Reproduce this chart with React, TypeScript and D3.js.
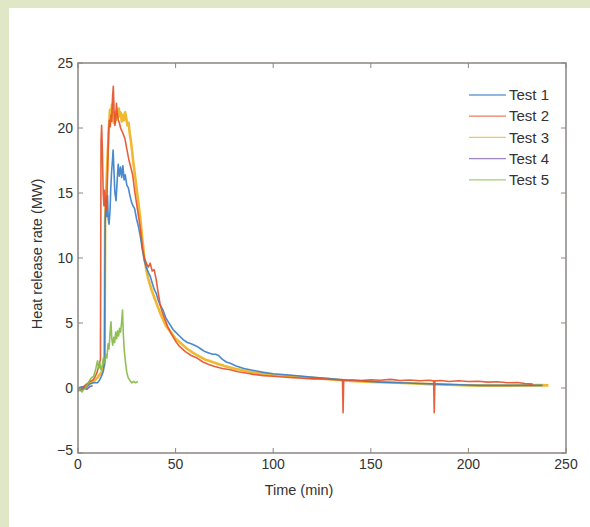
import React from "react";
import * as d3 from "d3";

type Pt = [number, number];

const seriesNames = ["Test 1", "Test 2", "Test 3", "Test 4", "Test 5"];
const seriesColors = ["#3a7fc8", "#e5532b", "#efb321", "#7b5fae", "#86ba48"];
const xTicks = [0, 50, 100, 150, 200, 250];
const yTicks = [-5, 0, 5, 10, 15, 20, 25];

const test1: Pt[] = [
  [0, 0.0], [2, 0.1], [4, 0.0], [6, 0.3], [8, 0.4], [10, 0.4], [11, 0.6], [12, 0.9], [13, 1.3], [13.6, 2.0],
  [13.9, 12.8], [14.3, 14.4], [14.7, 13.2], [15.1, 14.8], [15.5, 13.0], [15.9, 12.6], [16.4, 13.6],
  [16.8, 15.4], [17.2, 16.6], [17.6, 17.4], [18.0, 18.3], [18.4, 16.8], [18.9, 15.0], [19.5, 14.4],
  [20.0, 15.8], [20.6, 17.2], [21.2, 16.3], [21.8, 17.0], [22.4, 16.2], [23.0, 17.1], [23.6, 16.0],
  [24.2, 16.4], [25.0, 15.6], [25.8, 15.4], [26.6, 14.8], [27.4, 14.3], [28.2, 14.0], [29.0, 13.8],
  [30.0, 13.0], [31.0, 12.4], [32.0, 11.6], [33.0, 10.6], [34.0, 9.8], [35.0, 9.3], [36.0, 8.9],
  [37.0, 8.6], [38.0, 8.1], [39.0, 7.6], [40.0, 7.3], [41.0, 6.8], [42.0, 6.4], [43.5, 6.0], [45.0, 5.4],
  [47.0, 4.9], [48.7, 4.5], [50.0, 4.3], [52.0, 4.0], [54.0, 3.7], [56.0, 3.5], [58.0, 3.4], [61.0, 3.2],
  [63.0, 3.0], [65.0, 2.8], [67.0, 2.7], [69.0, 2.6], [70.5, 2.6], [72.0, 2.5], [74.0, 2.2], [76.0, 2.0],
  [78.0, 1.9], [81.0, 1.7], [85.0, 1.5], [90.0, 1.35], [95.0, 1.2], [100.0, 1.1], [108.0, 1.0],
  [115.0, 0.9], [122.0, 0.8], [130.0, 0.7], [138.0, 0.6], [146.0, 0.55], [155.0, 0.45], [165.0, 0.4],
  [175.0, 0.35], [185.0, 0.3], [195.0, 0.25], [205.0, 0.2], [215.0, 0.2], [225.0, 0.2], [238.0, 0.2],
];

const test2: Pt[] = [
  [0, -0.2], [1.5, -0.1], [3, 0.1], [4.5, 0.3], [6, 0.5], [7.5, 0.6], [8.5, 0.8], [9.5, 1.1], [10.5, 1.6],
  [11.5, 2.2], [11.8, 19.0], [12.1, 20.2], [12.5, 18.2], [12.9, 15.0], [13.3, 14.0], [13.7, 15.2],
  [14.1, 14.1], [14.5, 13.7], [14.9, 15.0], [15.3, 17.5], [15.7, 19.8], [16.1, 20.6], [16.5, 20.1],
  [16.9, 21.0], [17.3, 20.5], [17.7, 22.4], [18.1, 23.2], [18.5, 21.2], [18.9, 20.2], [19.3, 20.6],
  [19.7, 21.9], [20.1, 21.2], [20.6, 20.6], [21.2, 20.4], [21.8, 20.0], [22.4, 19.8], [23.0, 19.6],
  [24.0, 19.2], [25.0, 18.4], [26.0, 17.6], [27.0, 17.0], [28.0, 16.4], [29.0, 15.2], [30.0, 14.2],
  [31.0, 13.2], [32.0, 12.2], [33.0, 10.8], [34.0, 10.0], [35.0, 9.6], [36.0, 9.3], [37.0, 9.6],
  [38.0, 9.0], [39.0, 9.1], [40.0, 8.4], [41.0, 7.4], [42.0, 6.5], [43.0, 5.9], [44.5, 5.3], [46.0, 4.7],
  [48.0, 4.1], [50.0, 3.6], [52.0, 3.2], [55.0, 2.8], [58.0, 2.5], [61.0, 2.3], [64.0, 2.0], [67.0, 1.8],
  [70.0, 1.65], [74.0, 1.5], [78.0, 1.4], [82.0, 1.25], [86.0, 1.15], [90.0, 1.05], [95.0, 0.95],
  [100.0, 0.9], [105.0, 0.85], [110.0, 0.8], [115.0, 0.75], [120.0, 0.7], [125.0, 0.72], [130.0, 0.65],
  [135.5, 0.62], [135.8, -1.9], [136.1, 0.6], [140.0, 0.62], [145.0, 0.58], [150.0, 0.64],
  [155.0, 0.6], [160.0, 0.66], [165.0, 0.58], [170.0, 0.62], [175.0, 0.56], [180.0, 0.6],
  [182.2, 0.55], [182.5, -1.9], [182.8, 0.55], [186.0, 0.58], [190.0, 0.5], [195.0, 0.56],
  [200.0, 0.5], [205.0, 0.52], [210.0, 0.45], [215.0, 0.48], [220.0, 0.4], [225.0, 0.42],
  [229.0, 0.35], [233.0, 0.3],
];

const test3: Pt[] = [
  [0, -0.1], [2, 0.0], [4, 0.2], [6, 0.4], [8, 0.5], [10, 0.8], [12, 1.2], [13.6, 1.8], [13.9, 13.0],
  [14.5, 15.5], [15.2, 18.0], [15.8, 20.0], [16.4, 21.4], [16.9, 20.8], [17.4, 21.8], [17.9, 21.0],
  [18.4, 20.4], [18.9, 21.2], [19.4, 20.6], [19.9, 21.3], [20.4, 20.8], [20.9, 21.5], [21.4, 20.9],
  [21.9, 21.2], [22.4, 20.5], [22.9, 21.0], [23.5, 20.6], [24.1, 21.2], [24.7, 20.8], [25.3, 20.2],
  [25.9, 20.4], [26.5, 19.6], [27.1, 19.0], [27.6, 18.4], [28.3, 17.4], [29.0, 16.6], [30.0, 15.4],
  [31.0, 14.2], [32.0, 12.9], [33.0, 11.4], [34.0, 10.0], [35.0, 9.1], [36.0, 8.4], [37.0, 7.9],
  [38.0, 7.4], [39.0, 7.0], [40.0, 6.6], [41.0, 6.2], [42.0, 5.8], [43.5, 5.3], [45.0, 4.8], [47.0, 4.4],
  [50.0, 3.8], [53.0, 3.4], [56.0, 3.0], [60.0, 2.6], [65.0, 2.2], [70.0, 1.95], [75.0, 1.7],
  [80.0, 1.5], [85.0, 1.35], [90.0, 1.2], [95.0, 1.1], [100.0, 1.0], [110.0, 0.9], [120.0, 0.78],
  [130.0, 0.66], [140.0, 0.55], [150.0, 0.47], [160.0, 0.42], [170.0, 0.36], [180.0, 0.3],
  [190.0, 0.25], [200.0, 0.2], [210.0, 0.18], [220.0, 0.18], [230.0, 0.2], [236.0, 0.22], [241.0, 0.2],
];

const test4: Pt[] = [
  [0, -0.1], [1.5, -0.2], [3, 0.0], [4.5, -0.1], [6, 0.1], [7.5, 0.2],
];

const test5: Pt[] = [
  [0, -0.3], [1, -0.1], [2, -0.3], [3, -0.1], [4, 0.0], [5, 0.3], [6, 0.6], [7, 0.8], [8, 0.9],
  [9, 1.4], [10, 2.1], [10.6, 1.5], [11.2, 1.9], [11.8, 1.4], [12.4, 1.7], [13.0, 2.3], [13.6, 1.9],
  [14.2, 2.6], [14.8, 2.3], [15.4, 3.4], [15.9, 3.0], [16.4, 4.2], [16.9, 5.1], [17.3, 3.8],
  [17.8, 3.3], [18.3, 3.9], [18.8, 3.5], [19.3, 4.3], [19.8, 3.8], [20.3, 4.4], [20.8, 4.0],
  [21.3, 4.6], [21.8, 4.3], [22.3, 5.0], [22.8, 6.0], [23.2, 4.2], [23.7, 2.9], [24.3, 2.0],
  [25.0, 1.2], [25.7, 0.8], [26.5, 0.6], [27.5, 0.4], [28.5, 0.5], [29.5, 0.4], [30.7, 0.5],
];

const allSeries: Pt[][] = [test1, test2, test3, test4, test5];
const drawOrder = [2, 0, 1, 3, 4];
const widths = [1.6, 1.6, 2.6, 1.6, 1.6];

const W = 590;
const H = 527;
const left = 78;
const right = 566;
const top = 63;
const bottom = 453;

export default function App() {
  const x = d3.scaleLinear().domain([0, 250]).range([left, right]);
  const y = d3.scaleLinear().domain([-5, 25]).range([bottom, top]);
  const line = d3
    .line<Pt>()
    .x((d) => x(d[0]))
    .y((d) => y(d[1]));

  const axisColor = "#8c8683";
  const textColor = "#333";
  const font = "'Liberation Sans', Arial, sans-serif";
  const tickLen = 5;

  return (
    <svg
      width={W}
      height={H}
      style={{ position: "absolute", left: 0, top: 0, display: "block" }}
      fontFamily={font}
    >
      <rect x={0} y={0} width={W} height={H} fill="#dfe7c6" />
      <rect x={9} y={8} width={W - 9} height={H - 8} fill="#ffffff" />

      {drawOrder.map((i) => (
        <path
          key={i}
          d={line(allSeries[i]) || ""}
          fill="none"
          stroke={seriesColors[i]}
          strokeWidth={widths[i]}
          strokeLinejoin="round"
          strokeOpacity={0.92}
        />
      ))}

      {/* frame */}
      <rect
        x={left}
        y={top}
        width={right - left}
        height={bottom - top}
        fill="none"
        stroke={axisColor}
        strokeWidth={1.5}
      />

      {xTicks.map((t) => (
        <g key={"x" + t}>
          <line x1={x(t)} x2={x(t)} y1={bottom} y2={bottom - tickLen} stroke={axisColor} strokeWidth={1} />
          <line x1={x(t)} x2={x(t)} y1={top} y2={top + tickLen} stroke={axisColor} strokeWidth={1} />
          <text x={x(t)} y={bottom + 16} textAnchor="middle" fontSize={14} fill={textColor}>
            {t}
          </text>
        </g>
      ))}

      {yTicks.map((t) => (
        <g key={"y" + t}>
          <line x1={left} x2={left + tickLen} y1={y(t)} y2={y(t)} stroke={axisColor} strokeWidth={1} />
          <line x1={right} x2={right - tickLen} y1={y(t)} y2={y(t)} stroke={axisColor} strokeWidth={1} />
          <text
            x={left - 5}
            y={y(t) + (t === -5 ? -3 : 0)}
            dy="0.35em"
            textAnchor="end"
            fontSize={14}
            fill={textColor}
          >
            {t < 0 ? "\u2212" + Math.abs(t) : t}
          </text>
        </g>
      ))}

      <text x={299} y={495} textAnchor="middle" fontSize={14.5} fill={textColor}>
        Time (min)
      </text>
      <text
        transform={`translate(42, ${254}) rotate(-90)`}
        textAnchor="middle"
        fontSize={14.5}
        fill={textColor}
      >
        Heat release rate (MW)
      </text>

      {/* legend */}
      {seriesNames.map((name, i) => {
        const ly = 95 + i * 21.2;
        return (
          <g key={name}>
            <line x1={469} x2={506} y1={ly} y2={ly} stroke={seriesColors[i]} strokeWidth={1.3} strokeOpacity={0.75} />
            <text x={509} y={ly} dy="0.35em" fontSize={15} fill={textColor}>
              {name}
            </text>
          </g>
        );
      })}
    </svg>
  );
}
